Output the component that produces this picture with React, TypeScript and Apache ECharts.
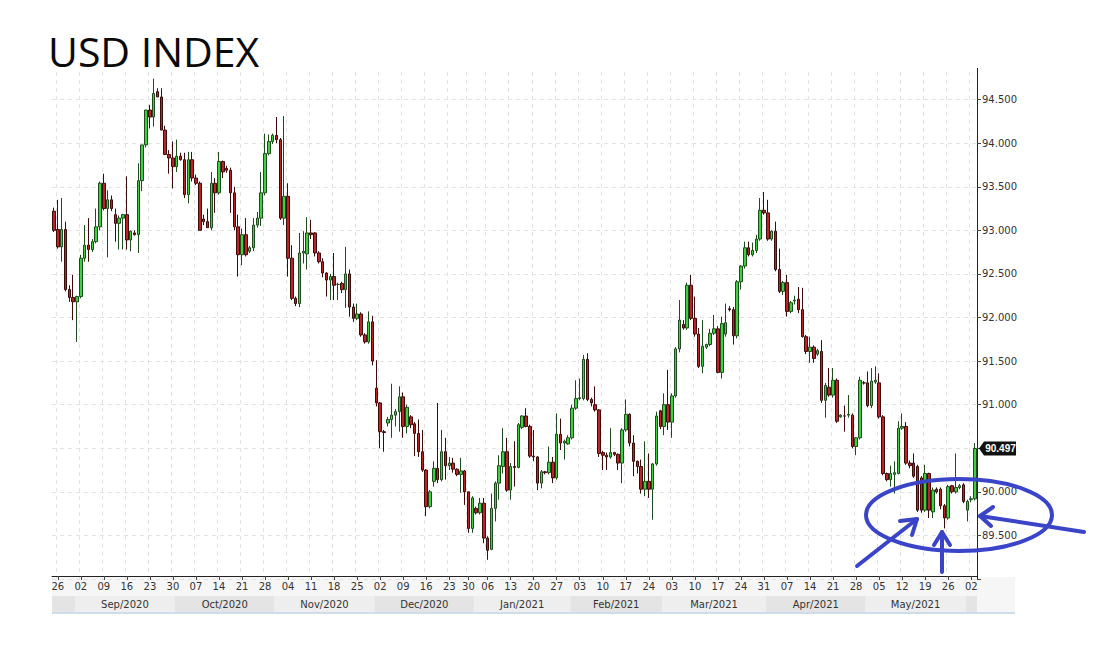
import React, { useEffect, useRef } from "react";
import * as echarts from "echarts";

// ---------- data ----------
const START_DATE = "2020-08-25";
const END_DATE = "2021-06-03";
const HOLIDAYS = ["2020-12-25", "2021-01-01"];
const MONTH_NAMES = ["Jan", "Feb", "Mar", "Apr", "May", "Jun", "Jul", "Aug", "Sep", "Oct", "Nov", "Dec"];
const Y_MIN = 89;
const Y_MAX = 95;
const Y_STEP = 0.5;
const LAST_PRICE = 90.497;

const openV = [
  93.22, 93.01, 92.81, 93.01, 92.32, 92.23, 92.18, 92.24, 92.68, 92.83,
  92.78, 92.87, 93.04, 93.54, 93.25, 93.35, 93.18, 93.08, 93.14, 93.18,
  92.89, 92.97, 92.95, 93.57, 93.98, 94.38, 94.30, 94.59, 94.53, 94.15,
  93.87, 93.83, 93.73, 93.85, 93.81, 93.41, 93.81, 93.60, 93.54, 93.13,
  93.10, 93.03, 93.54, 93.43, 93.79, 93.71, 93.69, 93.43, 93.04, 92.72,
  92.95, 92.76, 92.80, 93.06, 93.14, 93.43, 93.88, 94.02, 94.09, 94.04,
  93.14, 93.39, 92.68, 92.22, 92.16, 92.74, 92.73, 92.97, 92.97, 92.74,
  92.64, 92.51, 92.43, 92.47, 92.38, 92.39, 92.32, 92.50, 92.12, 91.99,
  92.04, 91.80, 91.72, 91.95, 91.19, 91.02, 90.69, 90.79, 90.83, 90.88,
  90.92, 91.09, 90.75, 90.86, 90.78, 90.67, 90.46, 90.25, 89.83, 90.12,
  90.27, 90.14, 90.46, 90.30, 90.33, 90.26, 90.20, 90.24, 90.00, 89.58,
  89.81, 89.76, 89.87, 89.47, 89.34, 89.81, 90.10, 90.29, 90.46, 90.02,
  90.29, 90.28, 90.74, 90.87, 90.75, 90.41, 90.40, 90.10, 90.23, 90.22,
  90.34, 90.16, 90.66, 90.56, 90.55, 90.62, 90.96, 91.07, 91.07, 91.52,
  91.06, 91.00, 90.94, 90.45, 90.42, 90.40, 90.45, 90.43, 90.33, 90.71,
  90.89, 90.56, 90.35, 90.29, 90.03, 90.12, 90.03, 90.32, 90.93, 90.75,
  91.00, 90.80, 91.10, 91.64, 91.92, 91.88, 92.37, 91.99, 91.81, 91.44,
  91.66, 91.69, 91.82, 91.87, 91.37, 91.81, 92.10, 92.09, 91.79, 92.41,
  92.59, 92.80, 92.72, 92.77, 92.90, 93.23, 93.20, 92.90, 92.99, 92.55,
  92.30, 92.40, 92.07, 92.19, 92.21, 92.09, 91.78, 91.61, 91.66, 91.58,
  91.61, 91.05, 91.20, 91.11, 91.28, 90.86, 90.87, 90.88, 90.88, 90.52,
  90.62, 91.25, 91.25, 90.99, 91.26, 91.25, 90.86, 90.21, 90.14, 90.20,
  90.21, 90.73, 90.75, 90.33, 90.33, 90.29, 90.16, 89.79, 90.21, 89.77,
  90.03, 90.03, 89.84, 89.70, 90.07, 90.00, 90.05, 90.08, 89.79, 89.91,
  89.92,
];
const highV = [
  93.26, 93.35, 93.37, 93.10, 92.37, 92.49, 92.25, 92.72, 93.06, 93.14,
  92.90, 93.25, 93.56, 93.65, 93.46, 93.40, 93.25, 93.17, 93.19, 93.62,
  93.00, 93.00, 93.77, 93.98, 94.38, 94.44, 94.74, 94.63, 94.63, 94.20,
  93.92, 94.02, 94.04, 93.89, 93.89, 93.90, 93.90, 93.64, 93.56, 93.18,
  93.25, 93.67, 93.60, 93.90, 93.80, 93.74, 93.72, 93.50, 93.18, 93.02,
  93.14, 92.82, 93.14, 93.21, 93.67, 94.11, 94.10, 94.11, 94.30, 94.06,
  94.31, 93.54, 92.83, 92.24, 92.97, 92.99, 93.15, 93.12, 92.98, 92.76,
  92.68, 92.52, 92.50, 92.74, 92.40, 92.41, 92.81, 92.55, 92.16, 92.16,
  92.06, 91.82, 92.07, 92.02, 91.51, 91.03, 90.71, 90.86, 91.24, 90.95,
  91.21, 91.14, 91.00, 90.88, 90.80, 90.83, 90.71, 90.26, 90.02, 90.35,
  91.02, 90.71, 90.62, 90.40, 90.39, 90.27, 90.39, 90.25, 90.00, 89.95,
  89.83, 89.93, 89.93, 89.49, 89.98, 90.12, 90.42, 90.73, 90.62, 90.33,
  90.58, 90.79, 90.88, 90.96, 90.77, 90.71, 90.41, 90.25, 90.24, 90.52,
  90.40, 90.90, 90.84, 90.60, 90.65, 91.00, 91.28, 91.30, 91.57, 91.59,
  91.08, 91.21, 90.95, 90.47, 90.45, 90.73, 90.46, 90.44, 90.73, 91.06,
  90.90, 90.65, 90.36, 90.37, 90.58, 90.44, 90.33, 90.92, 90.94, 91.13,
  91.40, 91.13, 91.66, 92.20, 91.97, 92.40, 92.49, 92.24, 91.88, 91.97,
  91.70, 91.87, 92.03, 91.90, 92.01, 92.16, 92.13, 92.12, 92.43, 92.60,
  92.87, 92.87, 92.86, 92.95, 93.37, 93.44, 93.35, 93.00, 93.10, 92.79,
  92.42, 92.49, 92.19, 92.25, 92.35, 92.34, 91.80, 91.78, 91.68, 91.64,
  91.74, 91.25, 91.42, 91.42, 91.30, 90.89, 90.99, 91.11, 90.90, 90.63,
  91.32, 91.27, 91.38, 91.42, 91.44, 91.36, 90.88, 90.22, 90.30, 90.35,
  90.81, 90.90, 90.80, 90.36, 90.44, 90.31, 90.18, 90.31, 90.22, 90.05,
  90.05, 90.05, 89.86, 90.08, 90.08, 90.44, 90.09, 90.10, 89.91, 89.95,
  90.56,
];
const lowV = [
  92.98, 92.79, 92.64, 92.30, 92.18, 91.97, 91.72, 92.22, 92.64, 92.64,
  92.75, 92.85, 93.00, 93.23, 92.69, 93.22, 92.87, 92.78, 92.78, 92.78,
  92.76, 92.94, 92.74, 93.45, 93.95, 94.17, 94.19, 94.53, 94.15, 93.87,
  93.65, 93.48, 93.67, 93.80, 93.37, 93.31, 93.56, 93.52, 93.00, 93.06,
  93.03, 93.00, 93.20, 93.41, 93.60, 93.66, 93.20, 93.00, 92.47, 92.60,
  92.70, 92.74, 92.76, 93.03, 93.05, 93.40, 93.86, 93.99, 94.00, 93.12,
  93.06, 92.47, 92.20, 92.13, 92.12, 92.62, 92.55, 92.90, 92.70, 92.62,
  92.46, 92.24, 92.20, 92.20, 92.20, 92.28, 92.11, 92.01, 91.95, 91.97,
  91.78, 91.70, 91.70, 91.45, 90.98, 90.50, 90.46, 90.75, 90.62, 90.75,
  90.69, 90.62, 90.67, 90.73, 90.41, 90.40, 90.23, 89.72, 89.81, 90.06,
  90.10, 90.12, 90.14, 90.25, 90.22, 90.18, 89.99, 89.85, 89.53, 89.53,
  89.74, 89.74, 89.41, 89.22, 89.33, 89.66, 89.91, 90.21, 90.00, 89.91,
  90.06, 90.27, 90.72, 90.74, 90.39, 90.35, 90.02, 90.04, 90.20, 90.20,
  90.10, 90.14, 90.48, 90.37, 90.54, 90.60, 90.94, 91.05, 91.05, 91.04,
  90.98, 90.92, 90.40, 90.25, 90.25, 90.38, 90.41, 90.25, 90.10, 90.69,
  90.52, 90.18, 90.21, 89.98, 89.95, 89.93, 89.68, 90.30, 90.72, 90.65,
  90.71, 90.62, 91.08, 91.60, 91.86, 91.86, 91.97, 91.78, 91.42, 91.36,
  91.64, 91.67, 91.80, 91.36, 91.30, 91.78, 92.07, 91.69, 91.76, 92.32,
  92.56, 92.70, 92.70, 92.74, 92.88, 93.18, 92.88, 92.88, 92.53, 92.28,
  92.26, 92.01, 92.05, 92.15, 92.05, 91.77, 91.58, 91.48, 91.48, 91.56,
  91.02, 90.85, 91.09, 91.08, 90.79, 90.85, 90.69, 90.85, 90.50, 90.42,
  90.60, 91.23, 90.97, 90.96, 91.24, 90.84, 90.19, 90.12, 90.06, 89.98,
  90.20, 90.71, 90.31, 90.27, 90.16, 89.77, 89.76, 89.77, 89.70, 89.70,
  89.98, 89.80, 89.58, 89.68, 89.98, 89.98, 90.03, 89.87, 89.66, 89.88,
  89.90,
];
const closeV = [
  93.00, 92.81, 93.01, 92.32, 92.23, 92.18, 92.24, 92.68, 92.83, 92.78,
  92.87, 93.04, 93.54, 93.25, 93.35, 93.25, 93.08, 93.14, 93.18, 92.89,
  92.99, 92.95, 93.57, 93.98, 94.38, 94.30, 94.57, 94.53, 94.15, 93.87,
  93.83, 93.73, 93.85, 93.81, 93.41, 93.81, 93.60, 93.54, 93.00, 93.10,
  93.03, 93.54, 93.43, 93.79, 93.67, 93.69, 93.43, 93.04, 92.72, 92.95,
  92.72, 92.80, 93.06, 93.14, 93.43, 93.88, 94.02, 94.09, 94.04, 93.14,
  93.39, 92.68, 92.22, 92.16, 92.74, 92.76, 92.97, 92.95, 92.74, 92.64,
  92.51, 92.43, 92.47, 92.37, 92.38, 92.32, 92.50, 92.12, 91.99, 92.04,
  91.80, 91.72, 91.95, 91.50, 91.02, 90.69, 90.68, 90.83, 90.88, 90.92,
  91.09, 90.75, 90.97, 90.77, 90.67, 90.46, 90.25, 89.83, 90.00, 90.27,
  90.14, 90.46, 90.30, 90.33, 90.26, 90.20, 90.24, 90.00, 89.58, 89.93,
  89.76, 89.87, 89.47, 89.33, 89.81, 90.10, 90.30, 90.46, 90.02, 90.29,
  90.28, 90.77, 90.87, 90.75, 90.41, 90.40, 90.10, 90.23, 90.22, 90.34,
  90.16, 90.66, 90.56, 90.58, 90.62, 90.96, 91.07, 91.08, 91.52, 91.06,
  91.02, 90.94, 90.44, 90.42, 90.40, 90.45, 90.43, 90.33, 90.71, 90.89,
  90.56, 90.35, 90.29, 90.03, 90.12, 90.03, 90.32, 90.87, 90.75, 91.00,
  90.80, 91.10, 91.64, 91.97, 91.88, 92.37, 91.99, 91.81, 91.44, 91.67,
  91.69, 91.82, 91.87, 91.37, 91.93, 91.94, 92.09, 91.79, 92.41, 92.59,
  92.80, 92.72, 92.77, 92.90, 93.23, 93.20, 92.90, 92.99, 92.55, 92.30,
  92.40, 92.07, 92.17, 92.20, 92.09, 91.78, 91.61, 91.66, 91.53, 91.62,
  91.05, 91.22, 91.11, 91.28, 90.81, 90.88, 90.87, 90.89, 90.52, 90.62,
  91.28, 91.25, 90.99, 91.27, 91.28, 90.86, 90.21, 90.14, 90.21, 90.22,
  90.73, 90.75, 90.33, 90.30, 90.18, 89.79, 89.79, 90.21, 89.79, 90.02,
  90.00, 89.84, 89.70, 90.06, 90.00, 90.05, 90.07, 89.89, 89.89, 89.92,
  90.497,
];

// ---------- helpers ----------
function buildDates(): string[] {
  const out: string[] = [];
  const d = new Date(START_DATE + "T00:00:00Z");
  const end = new Date(END_DATE + "T00:00:00Z");
  while (d.getTime() <= end.getTime()) {
    const s = d.toISOString().slice(0, 10);
    if (d.getUTCDay() !== 6 && HOLIDAYS.indexOf(s) < 0) out.push(s);
    d.setUTCDate(d.getUTCDate() + 1);
  }
  return out;
}
function isWednesday(s: string): boolean {
  return new Date(s + "T00:00:00Z").getUTCDay() === 3;
}

const FONT = "DejaVu Sans";

export default function App() {
  const ref = useRef<HTMLDivElement>(null);
  useEffect(() => {
    if (!ref.current) return;
    const chart = echarts.init(ref.current, undefined, { renderer: "svg" });
    const dates = buildDates();
    const n = Math.min(dates.length, openV.length);
    const cats = dates.slice(0, n);
    const candles = [];
    for (let i = 0; i < n; i++) candles.push([openV[i], closeV[i], lowV[i], highV[i]]);

    const wedInterval = (idx: number, val: string) => isWednesday(val);
    // the axis label hidden under the last-price tag in the reference
    const hiddenUnderTag = Math.round(LAST_PRICE / Y_STEP) * Y_STEP;

    chart.setOption({
      animation: false,
      backgroundColor: "#ffffff",
      grid: { left: 52, right: 120, top: 56, bottom: 74 },
      xAxis: {
        type: "category",
        data: cats,
        boundaryGap: true,
        offset: -3,
        axisLine: { show: true, lineStyle: { color: "#222", width: 1 } },
        axisTick: { show: true, interval: wedInterval, alignWithLabel: true, length: 4, lineStyle: { color: "#444" } },
        axisLabel: {
          interval: wedInterval,
          formatter: (v: string) => v.slice(8, 10),
          fontFamily: FONT,
          fontSize: 10,
          color: "#333",
          margin: 5,
        },
        splitLine: { show: true, interval: wedInterval, lineStyle: { color: "#e3e3e3", type: [4, 4] } },
      },
      yAxis: {
        type: "value",
        position: "right",
        min: Y_MIN,
        max: Y_MAX,
        interval: Y_STEP,
        scale: true,
        axisLine: { show: true, lineStyle: { color: "#222", width: 1 } },
        axisTick: { show: true, length: 4, lineStyle: { color: "#444" } },
        axisLabel: {
          formatter: (v: number) =>
            v <= Y_MIN + 1e-6 || v >= Y_MAX - 1e-6 || Math.abs(v - hiddenUnderTag) < 1e-6 ? "" : v.toFixed(3),
          fontFamily: FONT,
          fontSize: 10,
          color: "#333",
          margin: 5,
        },
        splitLine: { show: true, lineStyle: { color: "#e3e3e3", type: [4, 4] } },
      },
      series: [
        {
          type: "candlestick",
          data: candles,
          barWidth: 3,
          itemStyle: {
            color: "#3fd03f",
            color0: "#bb2327",
            borderColor: "#1d4d1d",
            borderColor0: "#3e0b0b",
            borderWidth: 1,
          },
        },
      ],
    });

    // ---- overlay graphics computed from the chart's own scales ----
    const px = (i: number) => chart.convertToPixel({ xAxisIndex: 0 }, i) as number;
    const py = (v: number) => chart.convertToPixel({ yAxisIndex: 0 }, v) as number;
    const bw = px(1) - px(0);
    const plotLeft = px(0) - bw / 2;
    const plotRight = px(n - 1) + bw / 2;
    const axisY = py(Y_MIN) - 3;
    const bandTop = axisY + 20;
    const bandH = 16;
    const bandRight = 1015;

    const g: any[] = [];
    // cover above plot top
    g.push({ type: "rect", shape: { x: 40, y: 40, width: plotRight - 40 + 6, height: 28 }, style: { fill: "#ffffff" }, z: 50 });
    // title
    g.push({
      type: "text",
      x: 48,
      y: 30,
      style: { text: "USD INDEX", fontFamily: "Open Sans", fontSize: 41, fill: "#0a0a0a" },
      z: 60,
    });
    // date row background
    g.push({ type: "rect", shape: { x: plotLeft, y: axisY + 1, width: bandRight - plotLeft, height: 19 }, style: { fill: "#f6f6f6" }, z: -1 });
    // month bands
    const months: { key: string; first: number; last: number }[] = [];
    cats.forEach((c, i) => {
      const key = c.slice(0, 7);
      if (!months.length || months[months.length - 1].key !== key) months.push({ key, first: i, last: i });
      else months[months.length - 1].last = i;
    });
    months.forEach((m, k) => {
      const x0 = k === 0 ? plotLeft : px(m.first) - bw / 2;
      const x1 = k === months.length - 1 ? plotRight : px(m.last) + bw / 2;
      g.push({ type: "rect", shape: { x: x0, y: bandTop, width: x1 - x0, height: bandH }, style: { fill: k % 2 === 0 ? "#e4e4e4" : "#eeeeee" }, z: 1 });
      if (x1 - x0 > 60) {
        const mm = parseInt(m.key.slice(5, 7), 10);
        g.push({
          type: "text",
          x: (x0 + x1) / 2,
          y: bandTop + bandH / 2,
          style: { text: MONTH_NAMES[mm - 1] + "/" + m.key.slice(0, 4), fontFamily: FONT, fontSize: 10, fill: "#333", align: "center", verticalAlign: "middle" },
          z: 2,
        });
      }
    });
    g.push({ type: "rect", shape: { x: plotRight, y: bandTop, width: bandRight - plotRight, height: bandH }, style: { fill: "#f6f6f6" }, z: 1 });
    g.push({ type: "line", shape: { x1: plotLeft, y1: bandTop + bandH + 1, x2: bandRight, y2: bandTop + bandH + 1 }, style: { stroke: "#cfdcea", lineWidth: 2 }, z: 1 });

    // last price tag
    const ly = py(LAST_PRICE);
    const tx = plotRight + 2;
    const tagRight = 1016;
    g.push({
      type: "polygon",
      shape: { points: [[tx, ly], [tx + 5, ly - 7], [tagRight, ly - 7], [tagRight, ly + 7], [tx + 5, ly + 7]] },
      style: { fill: "#111" },
      z: 20,
    });
    g.push({
      type: "text",
      x: (tx + 5 + tagRight) / 2 + 0.5,
      y: ly,
      style: {
        text: LAST_PRICE.toFixed(3),
        fontFamily: "Liberation Sans",
        fontWeight: "bold",
        fontSize: 10,
        fill: "#fff",
        align: "center",
        verticalAlign: "middle",
      },
      z: 21,
    });

    // hand drawn annotations
    const blue = "#3a44c8";
    const ann = { stroke: blue, lineWidth: 4, fill: "none", lineCap: "round", lineJoin: "round" };
    g.push({ type: "ellipse", shape: { cx: 959, cy: 515, rx: 93, ry: 36 }, style: ann, z: 30 });
    g.push({ type: "polyline", shape: { points: [[857, 566], [917, 519]] }, style: ann, z: 30 });
    g.push({ type: "polyline", shape: { points: [[900, 521], [917, 519], [912, 535]] }, style: ann, z: 30 });
    g.push({ type: "polyline", shape: { points: [[942, 572], [942, 532]] }, style: ann, z: 30 });
    g.push({ type: "polyline", shape: { points: [[934, 545], [942, 532], [950, 545]] }, style: ann, z: 30 });
    g.push({ type: "polyline", shape: { points: [[1084, 532], [980, 516]] }, style: ann, z: 30 });
    g.push({ type: "polyline", shape: { points: [[993, 507], [980, 516], [991, 526]] }, style: ann, z: 30 });

    chart.setOption({ graphic: g });

    return () => chart.dispose();
  }, []);
  return (
    <div
      ref={ref}
      style={{ position: "fixed", left: 0, top: 0, width: 1097, height: 653, background: "#fff" }}
    />
  );
}
